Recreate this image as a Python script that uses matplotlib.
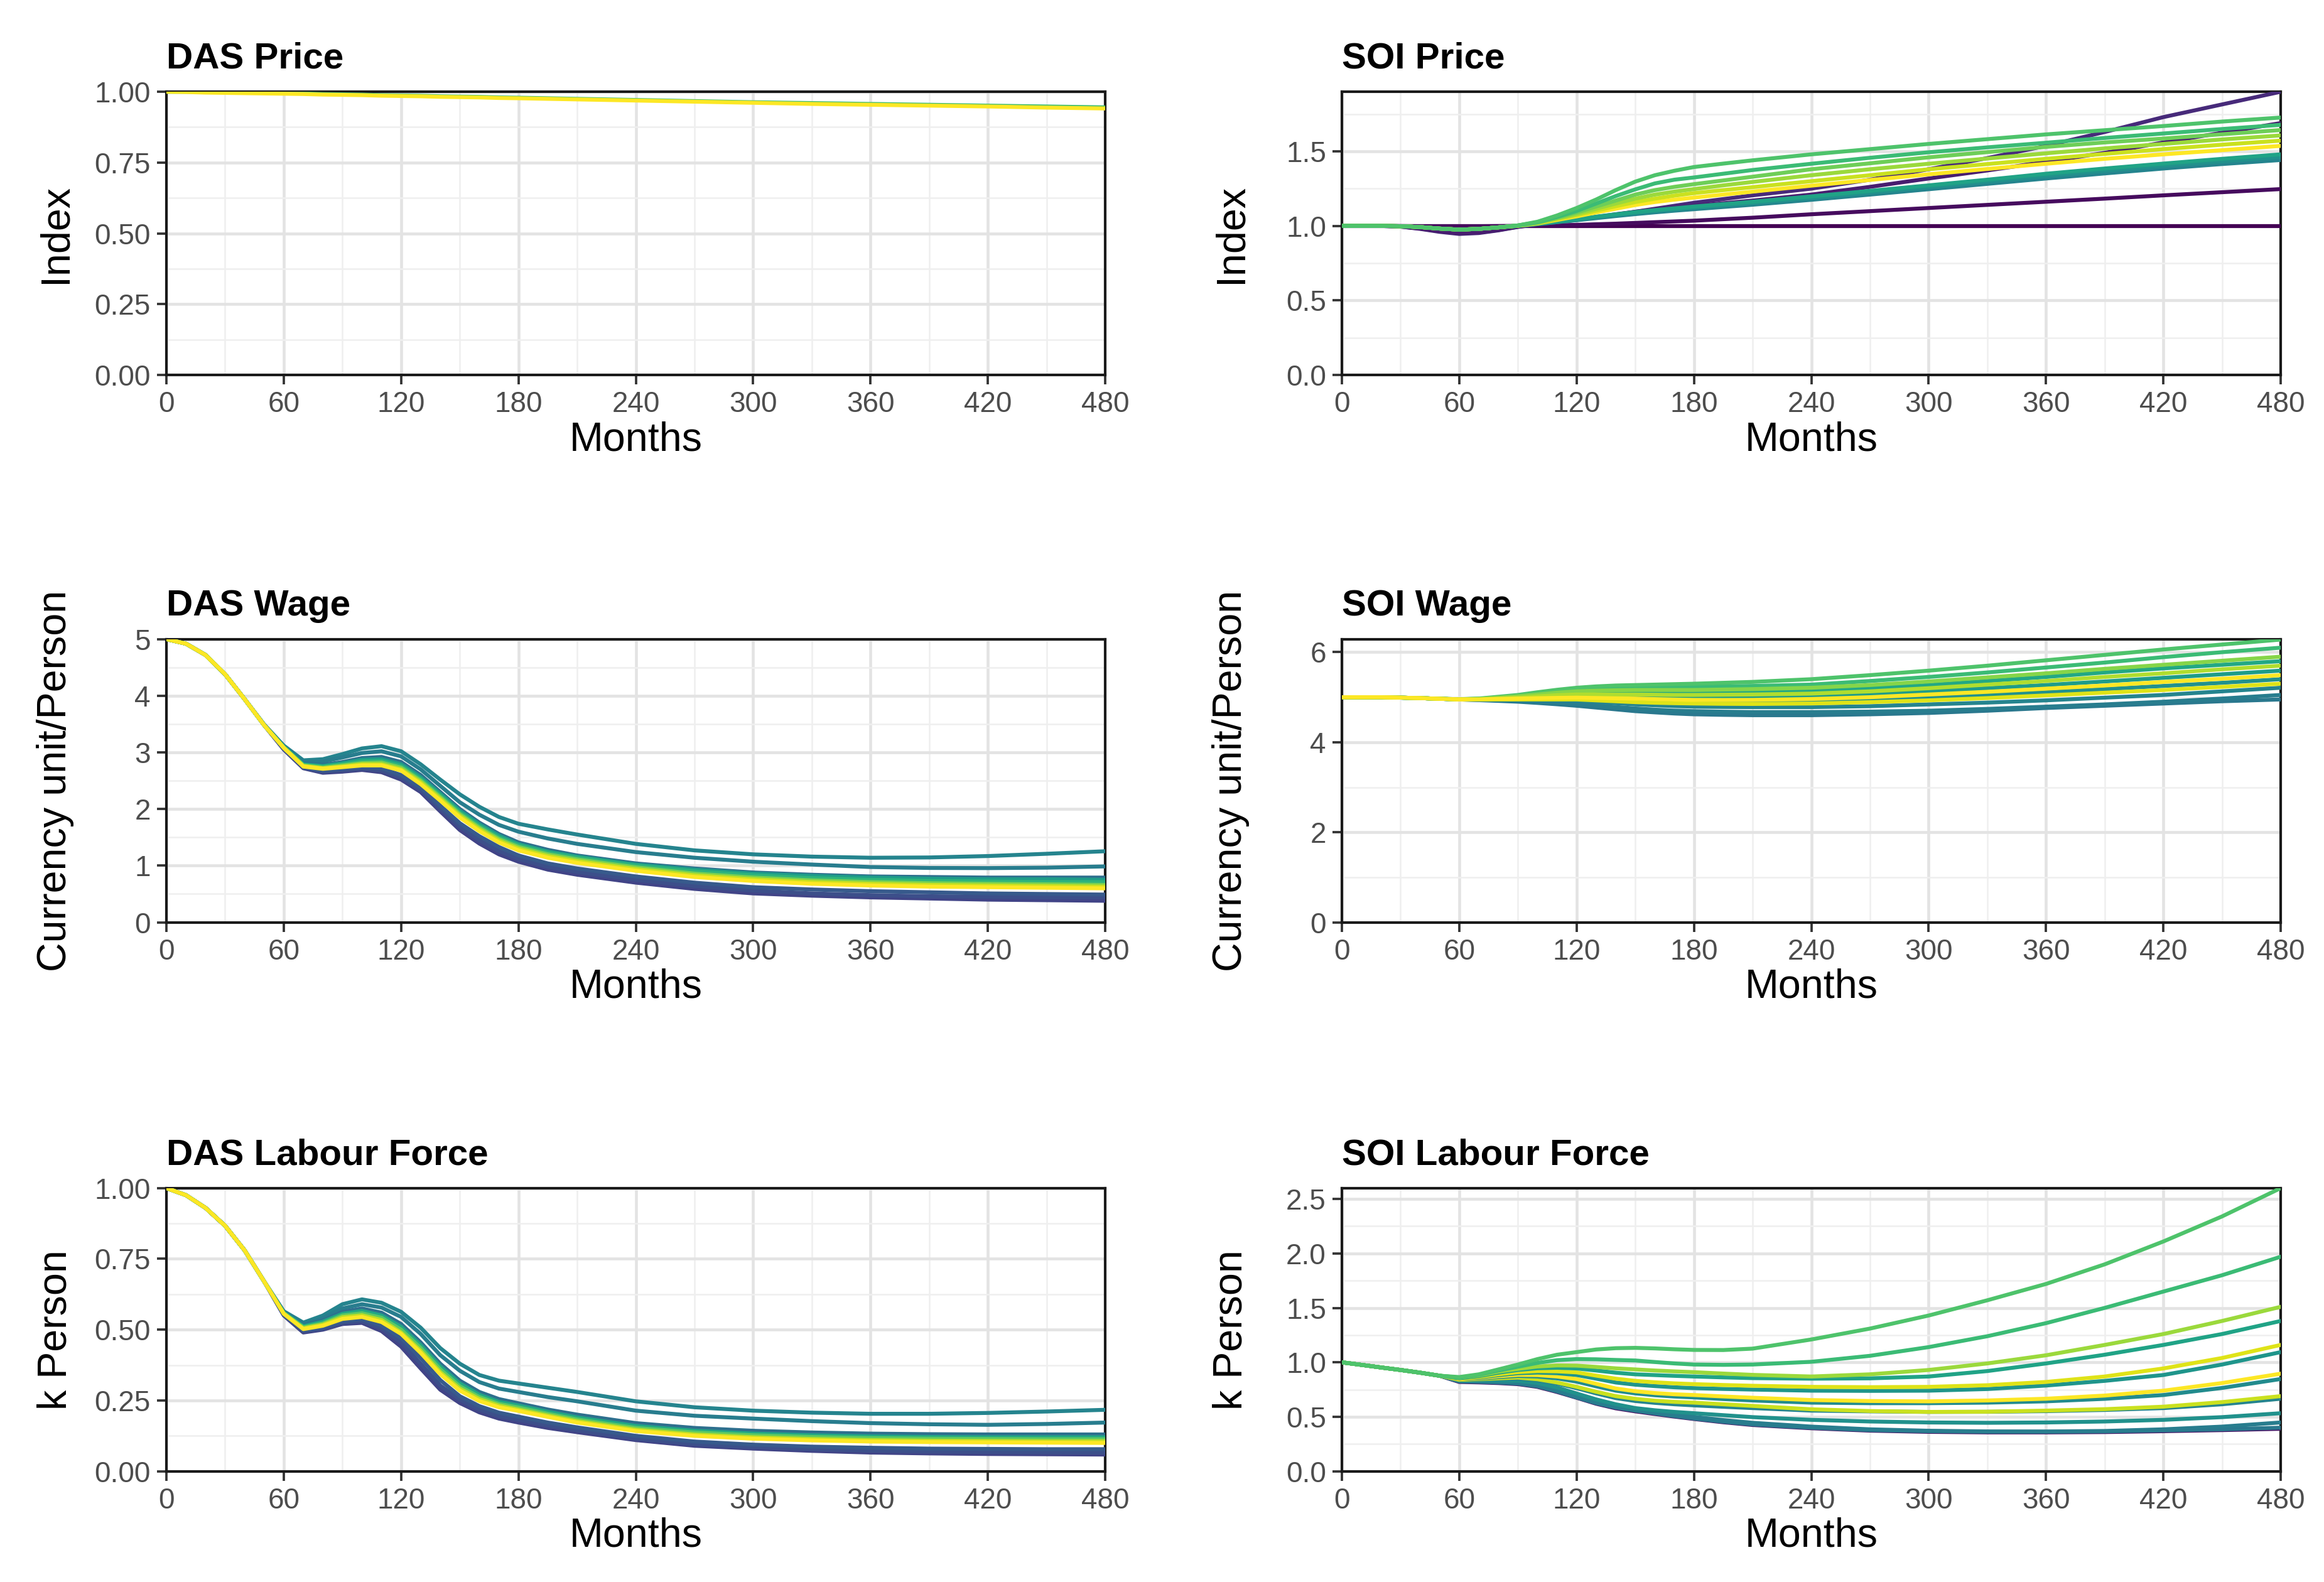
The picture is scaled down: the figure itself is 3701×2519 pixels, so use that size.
import matplotlib
matplotlib.use("Agg")
import matplotlib.pyplot as plt
from matplotlib.ticker import MultipleLocator, FormatStrFormatter

plt.rcParams['font.family'] = ['Liberation Sans', 'DejaVu Sans']

# meses muestreados (eje x comun)
months = [0, 10, 20, 30, 40, 50, 60, 70, 80, 90, 100, 110, 120, 130, 140, 150,
          160, 170, 180, 195, 210, 240, 270, 300, 330, 360, 390, 420, 450, 480]

# posicion en la paleta viridis de cada serie
das_price_cols = [0.7, 1.0]
das_price = [
    [1.0, 1.0, 0.999, 0.998, 0.997, 0.996, 0.995, 0.994, 0.992, 0.991, 0.99, 0.988, 0.987, 0.986, 0.984,
     0.983, 0.982, 0.98, 0.979, 0.977, 0.975, 0.971, 0.967, 0.963, 0.96, 0.957, 0.954, 0.951, 0.948, 0.945],
    [1.0, 0.999, 0.997, 0.996, 0.995, 0.994, 0.993, 0.992, 0.99, 0.989, 0.988, 0.986, 0.985, 0.984, 0.982,
     0.981, 0.98, 0.978, 0.977, 0.975, 0.973, 0.969, 0.965, 0.961, 0.957, 0.954, 0.951, 0.948, 0.944, 0.941],
]

soi_price_cols = [0.0, 0.03, 0.12, 0.08, 0.45, 0.5, 0.58, 1.0, 0.92, 0.85, 0.78, 0.68, 0.72]
soi_price = [
    [1.0, 1.0, 1.0, 1.0, 1.0, 1.0, 1.0, 1.0, 1.0, 1.0, 1.0, 1.0, 1.0, 1.0, 1.0,
     1.0, 1.0, 1.0, 1.0, 1.0, 1.0, 1.0, 1.0, 1.0, 1.0, 1.0, 1.0, 1.0, 1.0, 1.0],
    [1.0, 1.0, 1.0, 0.999, 0.998, 0.997, 0.997, 0.998, 0.999, 1.0, 1.002, 1.004, 1.007, 1.011, 1.015,
     1.02, 1.025, 1.03, 1.035, 1.045, 1.055, 1.078, 1.099, 1.12, 1.141, 1.162, 1.183, 1.205, 1.226, 1.247],
    [1.0, 1.0, 1.0, 0.995, 0.98, 0.96, 0.946, 0.952, 0.97, 0.993, 1.01, 1.025, 1.04, 1.057, 1.075,
     1.095, 1.115, 1.135, 1.155, 1.18, 1.205, 1.25, 1.31, 1.38, 1.455, 1.537, 1.63, 1.73, 1.815, 1.9],
    [1.0, 1.0, 1.0, 0.995, 0.982, 0.963, 0.95, 0.955, 0.972, 0.994, 1.012, 1.027, 1.042, 1.06, 1.078,
     1.095, 1.11, 1.122, 1.134, 1.152, 1.17, 1.21, 1.262, 1.318, 1.372, 1.43, 1.49, 1.56, 1.625, 1.69],
    [1.0, 1.0, 1.0, 0.998, 0.992, 0.982, 0.975, 0.98, 0.99, 1.0, 1.012, 1.025, 1.038, 1.052, 1.066,
     1.079, 1.091, 1.102, 1.112, 1.127, 1.142, 1.175, 1.21, 1.246, 1.282, 1.318, 1.352, 1.385, 1.415, 1.442],
    [1.0, 1.0, 1.0, 0.998, 0.992, 0.982, 0.975, 0.98, 0.99, 1.0, 1.013, 1.027, 1.041, 1.057, 1.072,
     1.086, 1.099, 1.11, 1.121, 1.137, 1.153, 1.187, 1.223, 1.26, 1.297, 1.335, 1.37, 1.403, 1.433, 1.462],
    [1.0, 1.0, 1.0, 0.998, 0.992, 0.982, 0.975, 0.98, 0.99, 1.0, 1.014, 1.03, 1.045, 1.062, 1.078,
     1.093, 1.106, 1.118, 1.13, 1.146, 1.162, 1.198, 1.235, 1.272, 1.31, 1.35, 1.385, 1.418, 1.45, 1.48],
    [1.0, 1.0, 1.0, 0.998, 0.992, 0.982, 0.975, 0.98, 0.99, 1.001, 1.016, 1.04, 1.064, 1.09, 1.115,
     1.14, 1.16, 1.176, 1.19, 1.21, 1.23, 1.27, 1.308, 1.346, 1.382, 1.417, 1.45, 1.48, 1.508, 1.537],
    [1.0, 1.0, 1.0, 0.998, 0.992, 0.982, 0.975, 0.98, 0.99, 1.002, 1.018, 1.045, 1.072, 1.102, 1.132,
     1.16, 1.183, 1.203, 1.22, 1.24, 1.26, 1.3, 1.34, 1.38, 1.415, 1.45, 1.483, 1.515, 1.545, 1.572],
    [1.0, 1.0, 1.0, 0.998, 0.992, 0.982, 0.975, 0.98, 0.99, 1.002, 1.02, 1.05, 1.08, 1.115, 1.15,
     1.183, 1.21, 1.23, 1.247, 1.272, 1.295, 1.34, 1.38, 1.417, 1.452, 1.487, 1.52, 1.55, 1.58, 1.607],
    [1.0, 1.0, 1.0, 0.998, 0.992, 0.982, 0.975, 0.98, 0.99, 1.003, 1.022, 1.055, 1.09, 1.13, 1.17,
     1.21, 1.24, 1.262, 1.28, 1.305, 1.33, 1.38, 1.42, 1.46, 1.495, 1.53, 1.56, 1.586, 1.615, 1.643],
    [1.0, 1.0, 1.0, 0.998, 0.992, 0.982, 0.975, 0.98, 0.99, 1.003, 1.025, 1.06, 1.1, 1.15, 1.2,
     1.245, 1.285, 1.31, 1.325, 1.35, 1.375, 1.417, 1.457, 1.494, 1.527, 1.558, 1.59, 1.62, 1.65, 1.678],
    [1.0, 1.0, 1.0, 0.998, 0.992, 0.982, 0.975, 0.98, 0.99, 1.003, 1.028, 1.07, 1.12, 1.177, 1.24,
     1.297, 1.34, 1.37, 1.395, 1.418, 1.44, 1.48, 1.515, 1.55, 1.582, 1.614, 1.642, 1.67, 1.7, 1.727],
]

das_wage_cols = [0.2, 0.24, 0.28, 0.45, 0.42, 0.36, 0.55, 0.65, 0.8, 0.92, 1.0]
das_wage = [
    [5.0, 4.92, 4.72, 4.38, 3.94, 3.48, 3.05, 2.72, 2.64, 2.66, 2.69, 2.65, 2.52, 2.30, 1.96,
     1.63, 1.39, 1.20, 1.07, 0.93, 0.84, 0.70, 0.59, 0.51, 0.47, 0.44, 0.42, 0.40, 0.39, 0.38],
    [5.0, 4.92, 4.72, 4.38, 3.94, 3.48, 3.06, 2.73, 2.66, 2.68, 2.71, 2.68, 2.56, 2.34, 2.01,
     1.69, 1.45, 1.26, 1.12, 0.98, 0.89, 0.75, 0.64, 0.56, 0.51, 0.48, 0.46, 0.45, 0.44, 0.44],
    [5.0, 4.92, 4.72, 4.38, 3.94, 3.48, 3.07, 2.74, 2.68, 2.71, 2.74, 2.72, 2.60, 2.38, 2.06,
     1.75, 1.52, 1.33, 1.18, 1.04, 0.95, 0.81, 0.70, 0.62, 0.58, 0.55, 0.53, 0.51, 0.50, 0.49],
    [5.0, 4.92, 4.72, 4.38, 3.94, 3.49, 3.12, 2.86, 2.88, 2.97, 3.07, 3.11, 3.02, 2.79, 2.52,
     2.26, 2.04, 1.86, 1.74, 1.64, 1.55, 1.385, 1.27, 1.2, 1.16, 1.14, 1.145, 1.17, 1.21, 1.255],
    [5.0, 4.92, 4.72, 4.38, 3.94, 3.49, 3.11, 2.83, 2.84, 2.91, 2.99, 3.02, 2.93, 2.70, 2.41,
     2.12, 1.90, 1.72, 1.60, 1.48, 1.385, 1.24, 1.14, 1.07, 1.02, 0.976, 0.96, 0.957, 0.965, 0.987],
    [5.0, 4.92, 4.72, 4.38, 3.94, 3.48, 3.1, 2.8, 2.78, 2.83, 2.9, 2.92, 2.83, 2.6, 2.3,
     2.0, 1.76, 1.56, 1.41, 1.28, 1.18, 1.04, 0.95, 0.88, 0.84, 0.81, 0.80, 0.79, 0.79, 0.79],
    [5.0, 4.92, 4.72, 4.38, 3.94, 3.48, 3.1, 2.79, 2.76, 2.81, 2.87, 2.88, 2.79, 2.56, 2.27,
     1.97, 1.73, 1.53, 1.38, 1.25, 1.16, 1.02, 0.93, 0.86, 0.82, 0.79, 0.77, 0.76, 0.76, 0.75],
    [5.0, 4.92, 4.72, 4.38, 3.94, 3.48, 3.09, 2.78, 2.75, 2.79, 2.84, 2.85, 2.76, 2.53, 2.24,
     1.94, 1.70, 1.50, 1.36, 1.23, 1.14, 1.0, 0.9, 0.83, 0.78, 0.75, 0.73, 0.72, 0.71, 0.71],
    [5.0, 4.92, 4.72, 4.38, 3.94, 3.48, 3.09, 2.77, 2.73, 2.77, 2.81, 2.82, 2.73, 2.50, 2.21,
     1.91, 1.67, 1.47, 1.33, 1.20, 1.11, 0.97, 0.86, 0.79, 0.74, 0.71, 0.69, 0.68, 0.67, 0.66],
    [5.0, 4.92, 4.72, 4.38, 3.94, 3.48, 3.08, 2.76, 2.72, 2.75, 2.79, 2.79, 2.70, 2.47, 2.18,
     1.88, 1.64, 1.44, 1.30, 1.17, 1.08, 0.94, 0.83, 0.76, 0.71, 0.68, 0.66, 0.65, 0.64, 0.63],
    [5.0, 4.92, 4.72, 4.38, 3.94, 3.48, 3.08, 2.75, 2.71, 2.74, 2.77, 2.77, 2.68, 2.44, 2.15,
     1.85, 1.61, 1.41, 1.27, 1.14, 1.05, 0.91, 0.80, 0.73, 0.68, 0.65, 0.63, 0.62, 0.61, 0.60],
]

soi_wage_cols = [0.4, 0.42, 0.45, 0.5, 0.55, 0.6, 0.68, 0.72, 0.82, 0.88, 0.95, 1.0]
soi_wage = [
    [5.0, 5.0, 5.0, 4.99, 4.98, 4.965, 4.95, 4.935, 4.918, 4.9, 4.873, 4.843, 4.81, 4.77, 4.73,
     4.69, 4.663, 4.638, 4.62, 4.608, 4.6, 4.6, 4.62, 4.65, 4.7, 4.76, 4.81, 4.86, 4.91, 4.95],
    [5.0, 5.0, 5.0, 4.99, 4.98, 4.965, 4.95, 4.94, 4.93, 4.92, 4.9, 4.88, 4.86, 4.82, 4.783,
     4.75, 4.723, 4.703, 4.69, 4.678, 4.67, 4.67, 4.68, 4.7, 4.74, 4.79, 4.84, 4.9, 4.97, 5.05],
    [5.0, 5.0, 5.0, 4.99, 4.98, 4.965, 4.95, 4.945, 4.942, 4.94, 4.935, 4.93, 4.92, 4.893, 4.867,
     4.84, 4.82, 4.803, 4.79, 4.783, 4.78, 4.78, 4.8, 4.84, 4.88, 4.93, 4.99, 5.05, 5.13, 5.21],
    [5.0, 5.0, 5.0, 4.99, 4.98, 4.965, 4.95, 4.95, 4.955, 4.96, 4.96, 4.96, 4.96, 4.947, 4.933,
     4.92, 4.907, 4.897, 4.89, 4.883, 4.88, 4.9, 4.94, 4.99, 5.05, 5.11, 5.18, 5.25, 5.32, 5.4],
    [5.0, 5.0, 5.0, 4.99, 4.98, 4.965, 4.95, 4.952, 4.965, 4.98, 4.995, 5.01, 5.02, 5.02, 5.015,
     5.01, 5.0, 4.995, 4.99, 4.993, 5.0, 5.02, 5.07, 5.13, 5.2, 5.27, 5.35, 5.43, 5.51, 5.59],
    [5.0, 5.0, 5.0, 4.99, 4.98, 4.965, 4.952, 4.958, 4.98, 5.0, 5.035, 5.065, 5.09, 5.1, 5.1,
     5.1, 5.1, 5.1, 5.1, 5.105, 5.11, 5.14, 5.2, 5.27, 5.36, 5.45, 5.55, 5.64, 5.72, 5.8],
    [5.0, 5.0, 5.0, 4.99, 4.98, 4.965, 4.955, 4.965, 4.995, 5.03, 5.075, 5.12, 5.16, 5.19, 5.21,
     5.22, 5.23, 5.23, 5.23, 5.24, 5.25, 5.28, 5.36, 5.45, 5.55, 5.66, 5.77, 5.89, 6.0, 6.1],
    [5.0, 5.0, 5.0, 4.99, 4.98, 4.965, 4.955, 4.97, 5.01, 5.05, 5.11, 5.165, 5.21, 5.24, 5.26,
     5.27, 5.28, 5.29, 5.3, 5.32, 5.34, 5.4, 5.49, 5.59, 5.7, 5.82, 5.94, 6.06, 6.17, 6.28],
    [5.0, 5.0, 5.0, 4.99, 4.98, 4.965, 4.955, 4.962, 4.99, 5.02, 5.06, 5.1, 5.13, 5.145, 5.155,
     5.16, 5.16, 5.16, 5.16, 5.17, 5.18, 5.21, 5.27, 5.35, 5.44, 5.53, 5.63, 5.72, 5.81, 5.9],
    [5.0, 5.0, 5.0, 4.99, 4.98, 4.965, 4.952, 4.955, 4.975, 4.99, 5.02, 5.045, 5.06, 5.06, 5.06,
     5.06, 5.055, 5.05, 5.05, 5.055, 5.06, 5.08, 5.13, 5.2, 5.28, 5.36, 5.45, 5.53, 5.62, 5.7],
    [5.0, 5.0, 5.0, 4.99, 4.98, 4.965, 4.95, 4.948, 4.95, 4.95, 4.95, 4.95, 4.95, 4.93, 4.91,
     4.89, 4.877, 4.867, 4.86, 4.853, 4.85, 4.86, 4.89, 4.93, 4.98, 5.04, 5.1, 5.16, 5.23, 5.3],
    [5.0, 5.0, 5.0, 4.99, 4.98, 4.965, 4.95, 4.95, 4.96, 4.97, 4.978, 4.985, 4.99, 4.983, 4.976,
     4.97, 4.958, 4.948, 4.94, 4.938, 4.94, 4.96, 5.0, 5.06, 5.12, 5.19, 5.26, 5.34, 5.41, 5.49],
]

das_lf_cols = [0.2, 0.24, 0.28, 0.45, 0.42, 0.36, 0.6, 0.75, 0.9, 1.0]
das_lf = [
    [1.0, 0.975, 0.93, 0.867, 0.78, 0.67, 0.55, 0.49, 0.50, 0.52, 0.524, 0.495, 0.44, 0.363, 0.288,
     0.241, 0.208, 0.186, 0.172, 0.153, 0.138, 0.11, 0.09, 0.08, 0.072, 0.066, 0.063, 0.061, 0.06, 0.059],
    [1.0, 0.975, 0.93, 0.867, 0.78, 0.67, 0.552, 0.494, 0.503, 0.524, 0.53, 0.505, 0.455, 0.38, 0.303,
     0.253, 0.218, 0.195, 0.182, 0.162, 0.145, 0.115, 0.096, 0.085, 0.078, 0.073, 0.07, 0.068, 0.067, 0.066],
    [1.0, 0.975, 0.93, 0.867, 0.78, 0.67, 0.554, 0.498, 0.508, 0.53, 0.537, 0.515, 0.47, 0.40, 0.322,
     0.265, 0.23, 0.207, 0.193, 0.172, 0.155, 0.125, 0.105, 0.094, 0.087, 0.083, 0.08, 0.079, 0.078, 0.078],
    [1.0, 0.975, 0.93, 0.867, 0.78, 0.67, 0.565, 0.525, 0.55, 0.59, 0.607, 0.595, 0.563, 0.507, 0.435,
     0.38, 0.34, 0.32, 0.31, 0.295, 0.28, 0.247, 0.226, 0.214, 0.207, 0.203, 0.203, 0.206, 0.211, 0.217],
    [1.0, 0.975, 0.93, 0.867, 0.78, 0.67, 0.563, 0.52, 0.54, 0.575, 0.59, 0.578, 0.545, 0.485, 0.41,
     0.355, 0.315, 0.292, 0.28, 0.262, 0.247, 0.214, 0.196, 0.186, 0.177, 0.17, 0.166, 0.164, 0.167, 0.172],
    [1.0, 0.975, 0.93, 0.867, 0.78, 0.67, 0.56, 0.515, 0.532, 0.563, 0.575, 0.56, 0.52, 0.455, 0.38,
     0.32, 0.28, 0.255, 0.24, 0.218, 0.2, 0.17, 0.153, 0.143, 0.137, 0.133, 0.131, 0.13, 0.13, 0.13],
    [1.0, 0.975, 0.93, 0.867, 0.78, 0.67, 0.56, 0.512, 0.528, 0.556, 0.566, 0.55, 0.51, 0.445, 0.37,
     0.31, 0.27, 0.245, 0.232, 0.21, 0.19, 0.16, 0.143, 0.133, 0.127, 0.123, 0.121, 0.12, 0.12, 0.12],
    [1.0, 0.975, 0.93, 0.867, 0.78, 0.67, 0.558, 0.508, 0.522, 0.55, 0.558, 0.542, 0.50, 0.435, 0.36,
     0.30, 0.262, 0.238, 0.225, 0.203, 0.183, 0.153, 0.137, 0.127, 0.121, 0.117, 0.115, 0.114, 0.113, 0.113],
    [1.0, 0.975, 0.93, 0.867, 0.78, 0.67, 0.557, 0.505, 0.518, 0.544, 0.551, 0.534, 0.49, 0.425, 0.35,
     0.292, 0.255, 0.232, 0.218, 0.197, 0.177, 0.147, 0.13, 0.12, 0.114, 0.11, 0.108, 0.107, 0.106, 0.106],
    [1.0, 0.975, 0.93, 0.867, 0.78, 0.67, 0.556, 0.502, 0.514, 0.538, 0.545, 0.527, 0.485, 0.418, 0.343,
     0.285, 0.248, 0.226, 0.213, 0.192, 0.172, 0.142, 0.125, 0.115, 0.109, 0.105, 0.103, 0.102, 0.101, 0.10],
]

soi_lf_cols = [0.05, 0.4, 0.42, 0.5, 0.45, 0.92, 0.48, 1.0, 0.52, 0.95, 0.58, 0.85, 0.68, 0.72]
soi_lf = [
    [1.0, 0.977, 0.953, 0.93, 0.905, 0.877, 0.82, 0.816, 0.81, 0.8, 0.775, 0.728, 0.675, 0.62, 0.578,
     0.55, 0.526, 0.502, 0.48, 0.45, 0.425, 0.395, 0.373, 0.362, 0.357, 0.357, 0.36, 0.368, 0.378, 0.39],
    [1.0, 0.977, 0.953, 0.93, 0.905, 0.877, 0.825, 0.821, 0.815, 0.805, 0.78, 0.733, 0.678, 0.625, 0.585,
     0.557, 0.532, 0.507, 0.484, 0.455, 0.43, 0.40, 0.378, 0.368, 0.363, 0.363, 0.366, 0.375, 0.385, 0.40],
    [1.0, 0.977, 0.953, 0.93, 0.905, 0.877, 0.83, 0.826, 0.821, 0.815, 0.79, 0.745, 0.69, 0.635, 0.59,
     0.56, 0.538, 0.518, 0.5, 0.47, 0.445, 0.41, 0.385, 0.372, 0.366, 0.365, 0.37, 0.385, 0.41, 0.448],
    [1.0, 0.977, 0.953, 0.93, 0.905, 0.877, 0.835, 0.835, 0.833, 0.83, 0.81, 0.77, 0.714, 0.66, 0.615,
     0.58, 0.56, 0.545, 0.533, 0.515, 0.497, 0.472, 0.457, 0.448, 0.445, 0.448, 0.457, 0.472, 0.497, 0.533],
    [1.0, 0.977, 0.953, 0.93, 0.905, 0.877, 0.84, 0.843, 0.847, 0.85, 0.835, 0.805, 0.763, 0.715, 0.672,
     0.645, 0.628, 0.615, 0.605, 0.592, 0.58, 0.557, 0.55, 0.545, 0.546, 0.552, 0.563, 0.58, 0.615, 0.666],
    [1.0, 0.977, 0.953, 0.93, 0.905, 0.877, 0.84, 0.845, 0.853, 0.86, 0.845, 0.815, 0.775, 0.73, 0.69,
     0.665, 0.648, 0.637, 0.63, 0.615, 0.6, 0.569, 0.553, 0.545, 0.547, 0.557, 0.57, 0.593, 0.635, 0.69],
    [1.0, 0.977, 0.953, 0.93, 0.905, 0.877, 0.845, 0.85, 0.864, 0.875, 0.87, 0.853, 0.823, 0.78, 0.74,
     0.715, 0.698, 0.686, 0.678, 0.663, 0.65, 0.63, 0.625, 0.625, 0.63, 0.642, 0.665, 0.70, 0.765, 0.847],
    [1.0, 0.977, 0.953, 0.93, 0.905, 0.877, 0.845, 0.855, 0.872, 0.885, 0.883, 0.87, 0.847, 0.803, 0.76,
     0.735, 0.718, 0.707, 0.70, 0.687, 0.675, 0.654, 0.645, 0.642, 0.65, 0.666, 0.695, 0.74, 0.81, 0.896],
    [1.0, 0.977, 0.953, 0.93, 0.905, 0.877, 0.85, 0.86, 0.882, 0.9, 0.906, 0.9, 0.884, 0.85, 0.815,
     0.795, 0.782, 0.771, 0.763, 0.756, 0.75, 0.74, 0.738, 0.74, 0.755, 0.787, 0.83, 0.884, 0.98, 1.094],
    [1.0, 0.977, 0.953, 0.93, 0.905, 0.877, 0.85, 0.865, 0.89, 0.91, 0.92, 0.918, 0.908, 0.878, 0.85,
     0.83, 0.817, 0.807, 0.8, 0.792, 0.785, 0.775, 0.772, 0.775, 0.79, 0.82, 0.87, 0.944, 1.04, 1.16],
    [1.0, 0.977, 0.953, 0.93, 0.905, 0.877, 0.855, 0.873, 0.905, 0.93, 0.946, 0.95, 0.944, 0.925, 0.905,
     0.89, 0.883, 0.876, 0.87, 0.862, 0.855, 0.85, 0.853, 0.87, 0.92, 0.99, 1.07, 1.16, 1.26, 1.38],
    [1.0, 0.977, 0.953, 0.93, 0.905, 0.877, 0.86, 0.88, 0.915, 0.94, 0.962, 0.972, 0.97, 0.958, 0.945,
     0.935, 0.925, 0.917, 0.91, 0.897, 0.885, 0.87, 0.89, 0.93, 0.99, 1.065, 1.16, 1.26, 1.38, 1.51],
    [1.0, 0.977, 0.953, 0.93, 0.905, 0.877, 0.86, 0.885, 0.925, 0.96, 0.995, 1.02, 1.03, 1.028, 1.022,
     1.017, 1.003, 0.99, 0.98, 0.977, 0.98, 1.005, 1.06, 1.14, 1.24, 1.36, 1.5, 1.65, 1.8, 1.97],
    [1.0, 0.977, 0.953, 0.93, 0.905, 0.877, 0.865, 0.89, 0.935, 0.98, 1.03, 1.07, 1.094, 1.118, 1.13,
     1.133, 1.128, 1.12, 1.114, 1.113, 1.126, 1.21, 1.31, 1.43, 1.57, 1.72, 1.9, 2.11, 2.34, 2.6],
]

# paneles: titulo, etiqueta y, datos, colores, limite y, paso mayor, formato
panels = [
    ("DAS Price", "Index", das_price, das_price_cols, 1.0, 0.25, "%.2f"),
    ("SOI Price", "Index", soi_price, soi_price_cols, 1.9, 0.5, "%.1f"),
    ("DAS Wage", "Currency unit/Person", das_wage, das_wage_cols, 5.0, 1.0, "%d"),
    ("SOI Wage", "Currency unit/Person", soi_wage, soi_wage_cols, 6.29, 2.0, "%d"),
    ("DAS Labour Force", "k Person", das_lf, das_lf_cols, 1.0, 0.25, "%.2f"),
    ("SOI Labour Force", "k Person", soi_lf, soi_lf_cols, 2.6, 0.5, "%.1f"),
]

fig = plt.figure(figsize=(3701 / 300, 2519 / 300), dpi=300)
cmap = plt.get_cmap("viridis")

col_x = [0.0716, 0.5774]
row_y = [0.763, 0.417, 0.070]
w, h = 0.404, 0.179

for i, (title, ylab, series, cols, ytop, step, fmt) in enumerate(panels):
    ax = fig.add_axes([col_x[i % 2], row_y[i // 2], w, h])
    for vals, c in zip(series, cols):
        ax.plot(months, vals, color=cmap(c), lw=1.5, zorder=3)

    ax.set_xlim(0, 480)
    ax.set_ylim(0, ytop)
    ax.xaxis.set_major_locator(MultipleLocator(60))
    ax.xaxis.set_minor_locator(MultipleLocator(30))
    ax.yaxis.set_major_locator(MultipleLocator(step))
    ax.yaxis.set_minor_locator(MultipleLocator(step / 2))
    ax.yaxis.set_major_formatter(FormatStrFormatter(fmt))

    ax.grid(which="major", color="#e3e3e3", lw=1.1, zorder=0)
    ax.grid(which="minor", color="#efefef", lw=0.6, zorder=0)
    ax.set_axisbelow(True)
    ax.tick_params(which="major", direction="out", length=3.5, width=0.9,
                   color="#333333", labelcolor="#4d4d4d", labelsize=11, pad=2.5)
    ax.tick_params(which="minor", length=0)
    for s in ax.spines.values():
        s.set_color("#1a1a1a")
        s.set_linewidth(1.0)

    ax.set_title(title, loc="left", fontsize=14, fontweight="bold", pad=9)
    ax.set_xlabel("Months", fontsize=15.5, labelpad=1)
    ax.set_ylabel(ylab, fontsize=15.5)
    ax.yaxis.set_label_coords(-0.098, 0.5)

fig.savefig("out.png", dpi=300, facecolor="white")
